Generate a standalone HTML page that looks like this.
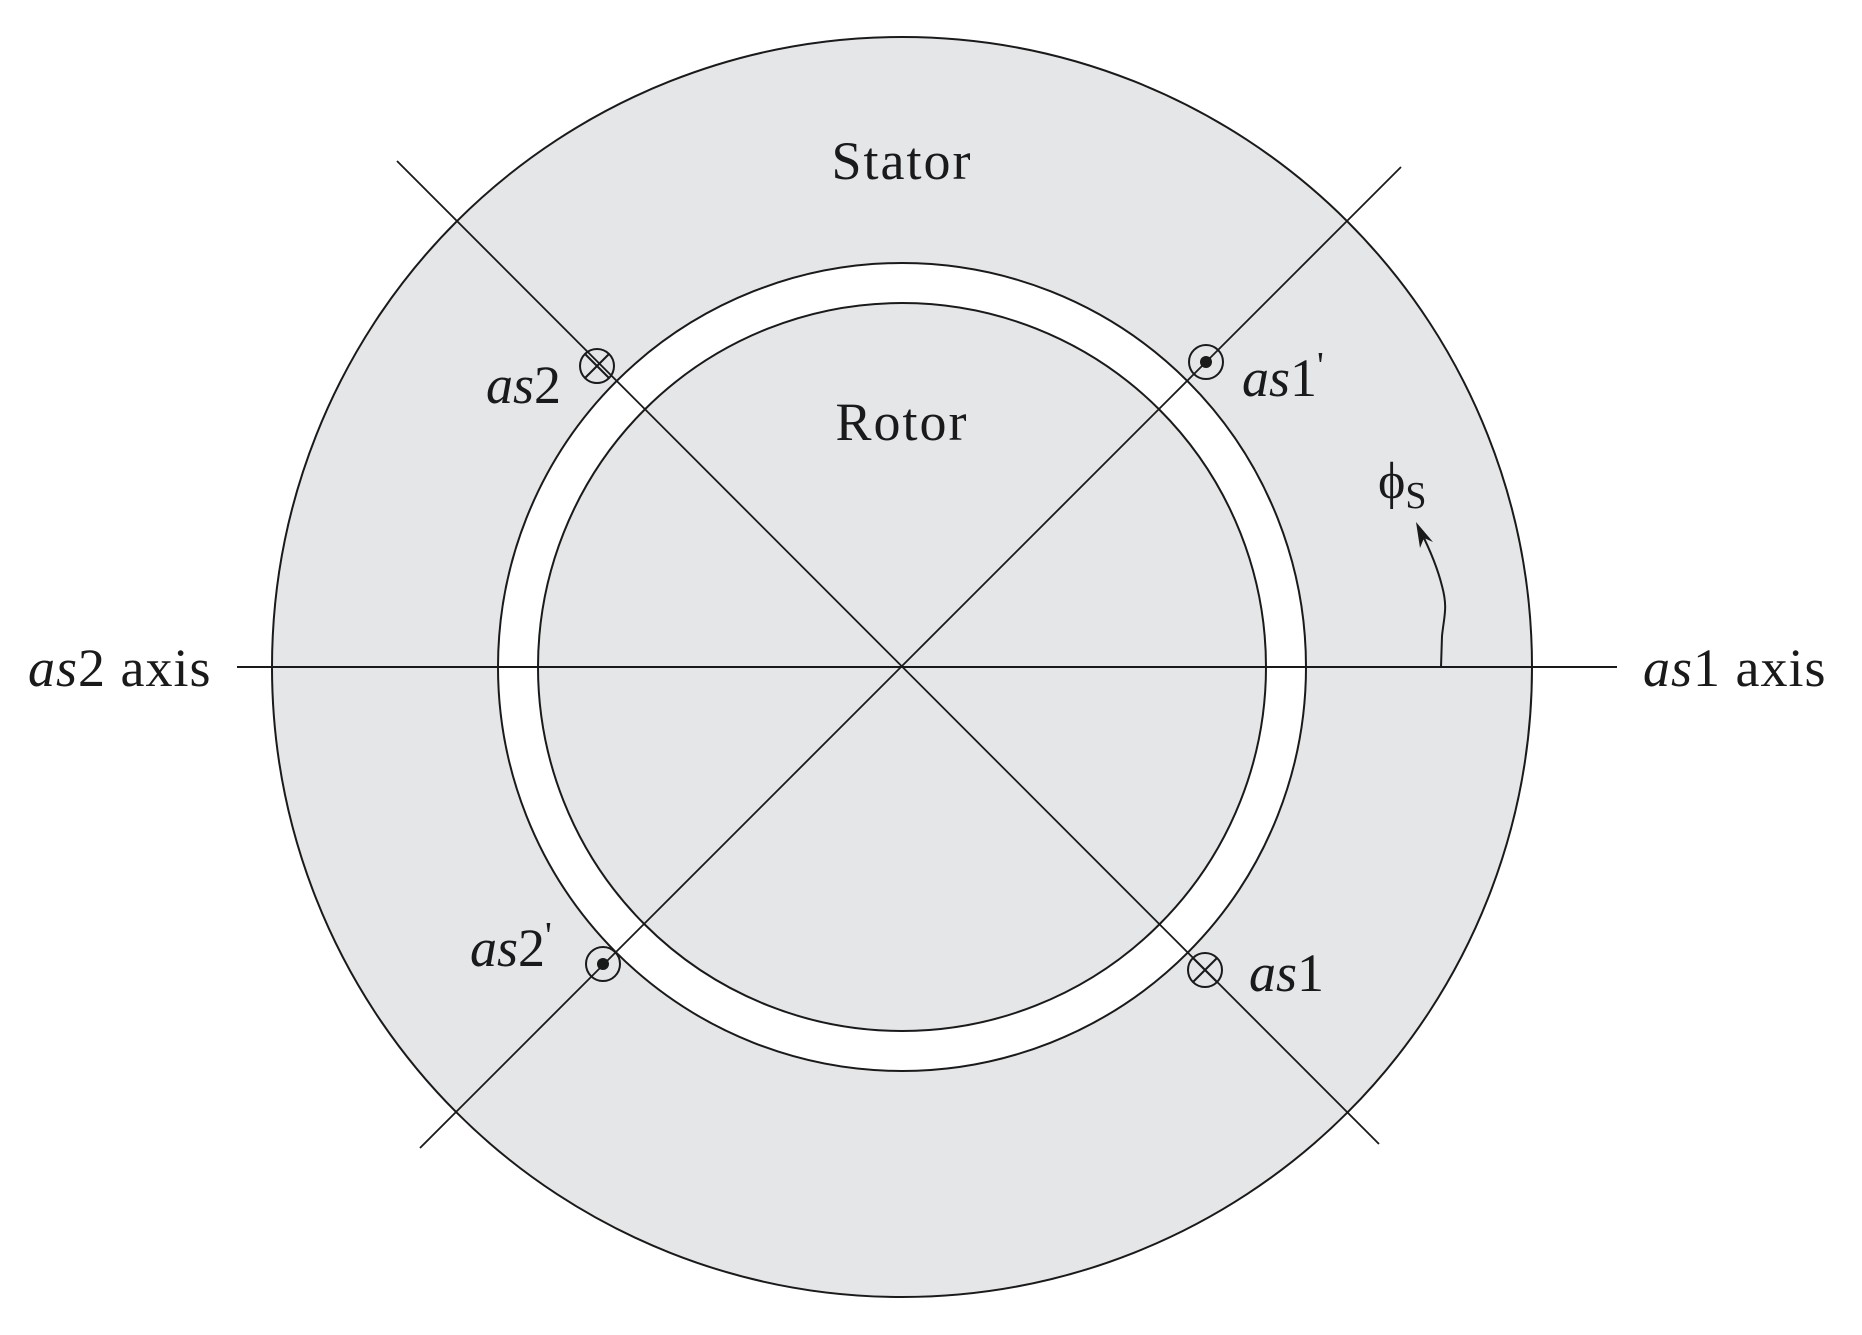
<!DOCTYPE html>
<html><head><meta charset="utf-8">
<style>
html,body{margin:0;padding:0;background:#fff;}
svg{display:block;}
text{font-family:"Liberation Serif",serif;fill:#1a1a1a;}
.it{font-style:italic;}
</style></head>
<body>
<svg width="1862" height="1335" viewBox="0 0 1862 1335" xmlns="http://www.w3.org/2000/svg">
 <g transform="translate(-3,-4)">
  <circle cx="905" cy="671" r="630" fill="#e5e6e8" stroke="#1a1a1a" stroke-width="2"/>
  <circle cx="905" cy="671" r="404" fill="#fff" stroke="#1a1a1a" stroke-width="2"/>
  <circle cx="905" cy="671" r="364" fill="#e5e6e8" stroke="#1a1a1a" stroke-width="2"/>
  <line x1="240" y1="671" x2="1620" y2="671" stroke="#1a1a1a" stroke-width="2"/>
  <line x1="400" y1="165" x2="1382" y2="1148" stroke="#1a1a1a" stroke-width="1.8"/>
  <line x1="1404" y1="171" x2="423" y2="1152" stroke="#1a1a1a" stroke-width="1.8"/>

  <g>
    <circle cx="1209" cy="366" r="17" fill="none" stroke="#1a1a1a" stroke-width="2"/>
    <circle cx="1209" cy="366" r="6" fill="#1a1a1a"/>
  </g>
  <g>
    <circle cx="606" cy="968" r="17" fill="none" stroke="#1a1a1a" stroke-width="2"/>
    <circle cx="606" cy="968" r="6" fill="#1a1a1a"/>
  </g>
  <g>
    <circle cx="600" cy="370" r="17" fill="none" stroke="#1a1a1a" stroke-width="2"/>
    <line x1="588" y1="358" x2="612" y2="382" stroke="#1a1a1a" stroke-width="2"/>
    <line x1="612" y1="358" x2="588" y2="382" stroke="#1a1a1a" stroke-width="2"/>
  </g>
  <g>
    <circle cx="1208" cy="974" r="17" fill="none" stroke="#1a1a1a" stroke-width="2"/>
    <line x1="1196" y1="962" x2="1220" y2="986" stroke="#1a1a1a" stroke-width="2"/>
    <line x1="1220" y1="962" x2="1196" y2="986" stroke="#1a1a1a" stroke-width="2"/>
  </g>

  <path d="M1444,671 L1445,640 C1447,620 1451,612 1445,590 C1440,570 1432,552 1424,536" fill="none" stroke="#1a1a1a" stroke-width="2"/>
  <path d="M1419,526 L1436,546 L1427,542 L1423,552 Z" fill="#1a1a1a"/>
 </g>

  <text x="902" y="179" font-size="54" letter-spacing="2" text-anchor="middle">Stator</text>
  <text x="902" y="440" font-size="54" letter-spacing="2" text-anchor="middle">Rotor</text>
  <text x="561" y="403" font-size="54" text-anchor="end"><tspan class="it">as</tspan>2</text>
  <text x="1242" y="396" font-size="54"><tspan class="it">as</tspan>1<tspan font-size="38" dy="-18">'</tspan></text>
  <text x="470" y="966" font-size="54"><tspan class="it">as</tspan>2<tspan font-size="38" dy="-18">'</tspan></text>
  <text x="1249" y="991" font-size="54"><tspan class="it">as</tspan>1</text>
  <text x="28" y="686" font-size="54" letter-spacing="1"><tspan class="it">as</tspan>2 axis</text>
  <text x="1643" y="686" font-size="54" letter-spacing="1"><tspan class="it">as</tspan>1 axis</text>
  <text x="1378" y="498" font-size="52">ϕ<tspan font-size="38" dy="10">S</tspan></text>
</svg>
</body></html>
